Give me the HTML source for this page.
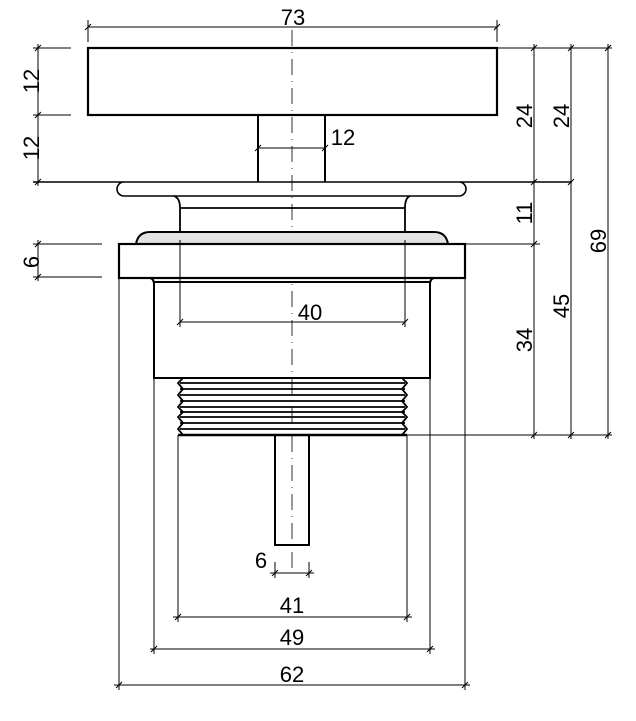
<!DOCTYPE html>
<html><head><style>html,body{margin:0;padding:0;background:#fff}svg{display:block}</style></head><body>
<svg width="636" height="721" viewBox="0 0 636 721" xmlns="http://www.w3.org/2000/svg" font-family="Liberation Sans, sans-serif" font-size="22" fill="none" stroke="#000">
<!-- centerline -->
<line x1="292" y1="30" x2="292" y2="572" stroke="#777" stroke-width="1.5" stroke-dasharray="16,6,1,6"/>
<!-- top plate -->
<rect x="88" y="48" width="409" height="67" stroke-width="2.2"/>
<line x1="258" y1="115" x2="258" y2="182" stroke-width="2"/>
<line x1="325" y1="115" x2="325" y2="182" stroke-width="2"/>
<!-- pill -->
<path d="M33 182 H572 M124 182 A7 7 0 0 0 124 196 H459 A7 7 0 0 0 459 182" stroke-width="1.6"/>
<!-- neck -->
<path d="M174 196 Q180 198 180 208 V232 M180 208 H405 M410 196 Q405 198 405 208 V232" stroke-width="1.8"/>
<!-- gray cap -->
<path d="M136 244 Q138 232 150 232 H434 Q446 232 448 244 Z" fill="#e2e2e2" stroke-width="2"/>
<!-- flange -->
<rect x="119" y="244" width="346" height="34" fill="#fff" stroke-width="2.2"/>
<!-- body -->
<path d="M150 278 Q154 279 154 284 V378 H430 V284 Q430 279 434 278 M154 282 H430" stroke-width="2"/>
<!-- threads -->
<g stroke-width="1.8">
<path d="M183 378 L178 383 L183 389 L178 395 L183 401 L178 407 L183 412 L178 417 L183 423 L178 429 L183 435"/>
<path d="M402 378 L407 383 L402 389 L407 395 L402 401 L407 407 L402 412 L407 417 L402 423 L407 429 L402 435"/>
<path d="M180 383H405M180 389H405M180 395H405M180 401H405M180 407H405M180 412H405M180 417H405M180 423H405M180 429H405"/>
<line x1="178" y1="435" x2="407" y2="435" stroke-width="2.6"/>
</g>
<!-- pin -->
<rect x="275" y="435" width="34" height="110" stroke-width="2"/>
<!-- dimension lines -->
<g stroke-width="1">
<path d="M88 27H497 M88 20V42 M497 20V42"/>
<path d="M38 44V186 M33 48H71 M33 115H71"/>
<path d="M38 240V281 M33 244H102 M33 277H102"/>
<path d="M258 148H325"/>
<path d="M497 48H612 M465 244H540 M407 435H612"/>
<path d="M534 44V439 M571 44V439 M608 44V439"/>
<path d="M180 240V327 M405 240V327 M180 322H405"/>
<path d="M119 278V690 M465 278V690 M114 685H470"/>
<path d="M154 378V654 M430 378V654 M150 649H435"/>
<path d="M178 435V622 M407 435V622 M173 617H412"/>
<path d="M275 562V578 M309 562V578 M270 573H314"/>
<path d="M85 30L91 24 M494 30L500 24 M35 51L41 45 M35 118L41 112 M35 185L41 179 M35 247L41 241 M35 280L41 274 M255 151L261 145 M322 151L328 145 M531 51L537 45 M531 185L537 179 M531 247L537 241 M531 438L537 432 M568 51L574 45 M568 185L574 179 M568 438L574 432 M605 51L611 45 M605 438L611 432 M177 325L183 319 M402 325L408 319 M116 688L122 682 M462 688L468 682 M151 652L157 646 M427 652L433 646 M175 620L181 614 M404 620L410 614 M272 576L278 570 M306 576L312 570"/>
</g>
<g fill="#000" stroke="none" text-anchor="middle">
<text x="293" y="25">73</text>
<text x="343" y="145">12</text>
<text x="310" y="320">40</text>
<text x="261" y="568">6</text>
<text x="292" y="613">41</text>
<text x="292" y="645">49</text>
<text x="292" y="682">62</text>
<text transform="translate(39,81) rotate(-90)">12</text>
<text transform="translate(39,148) rotate(-90)">12</text>
<text transform="translate(39,262) rotate(-90)">6</text>
<text transform="translate(532,116) rotate(-90)">24</text>
<text transform="translate(569,116) rotate(-90)">24</text>
<text transform="translate(532,213) rotate(-90)">11</text>
<text transform="translate(606,241) rotate(-90)">69</text>
<text transform="translate(569,306) rotate(-90)">45</text>
<text transform="translate(532,340) rotate(-90)">34</text>
</g>
</svg>
</body></html>
